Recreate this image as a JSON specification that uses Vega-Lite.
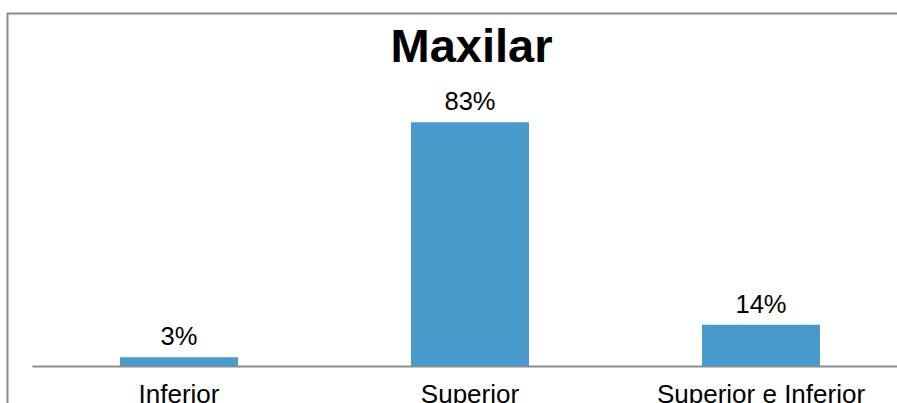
{
  "$schema": "https://vega.github.io/schema/vega-lite/v6.json",
  "width": 925,
  "height": 420,
  "autosize": {"type": "none"},
  "padding": {"left": 7.5, "top": 13.5, "right": 0, "bottom": 0},
  "background": "white",
  "config": {
    "font": "Liberation Sans",
    "view": {"stroke": "#8c8c8c", "strokeWidth": 2}
  },
  "datasets": {
    "shares": [
      {"maxilar": "Inferior", "share": 0.03},
      {"maxilar": "Superior", "share": 0.83},
      {"maxilar": "Superior e Inferior", "share": 0.14}
    ],
    "heading": [
      {"maxilar": "Superior", "share": 1.035, "heading": "Maxilar"}
    ]
  },
  "layer": [
    {
      "data": {"name": "shares"},
      "mark": {"type": "bar", "color": "#4A9BCB"},
      "encoding": {
        "x": {
          "field": "maxilar",
          "type": "nominal",
          "sort": null,
          "scale": {"range": [24.5, 900.5], "paddingInner": 0.5945, "paddingOuter": 0.3024},
          "axis": {
            "title": null,
            "orient": "bottom",
            "offset": -67.5,
            "labelAngle": 0,
            "labelFontSize": 26,
            "labelColor": "#000000",
            "labelPadding": 15,
            "labelLimit": 0,
            "ticks": false,
            "tickSize": 0,
            "domainColor": "#8c8c8c",
            "domainWidth": 2,
            "grid": false
          }
        },
        "y": {
          "field": "share",
          "type": "quantitative",
          "scale": {"domain": [-0.23, 1.2], "nice": false},
          "axis": null
        }
      }
    },
    {
      "data": {"name": "shares"},
      "mark": {"type": "text", "baseline": "alphabetic", "dy": -12, "fontSize": 25.5, "color": "#000000"},
      "encoding": {
        "x": {"field": "maxilar", "type": "nominal", "sort": null},
        "y": {"field": "share", "type": "quantitative"},
        "text": {"field": "share", "type": "quantitative", "format": ".0%"}
      }
    },
    {
      "data": {"name": "heading"},
      "mark": {"type": "text", "baseline": "alphabetic", "fontSize": 47, "fontWeight": "bold", "color": "#000000", "dx": 1.5},
      "encoding": {
        "x": {"field": "maxilar", "type": "nominal", "sort": null},
        "y": {"field": "share", "type": "quantitative"},
        "text": {"field": "heading", "type": "nominal"}
      }
    }
  ]
}
